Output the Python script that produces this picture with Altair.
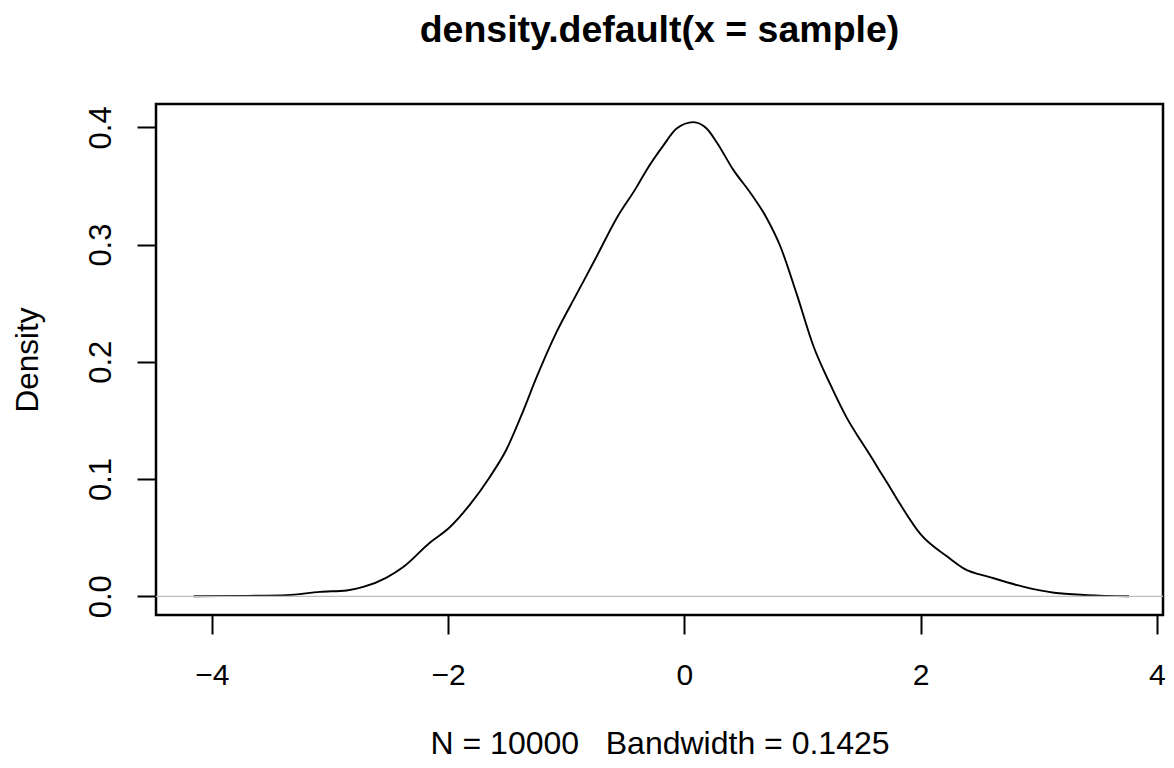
import altair as alt
import pandas as pd

# Density curve
density_x = [-4.155, -3.70, -3.366, -3.085, -2.859, -2.718, -2.521, -2.380, -2.155,
             -1.986, -1.817, -1.648, -1.507, -1.366, -1.254, -1.082, -0.912, -0.757,
             -0.573, -0.404, -0.319, -0.178, -0.065, 0.076, 0.189, 0.274, 0.415,
             0.556, 0.698, 0.811, 0.952, 1.093, 1.234, 1.377, 1.492, 1.575, 1.660,
             1.716, 1.831, 2.000, 2.226, 2.368, 2.593, 2.876, 3.131, 3.413, 3.766]
density_y = [0.0, 0.0004, 0.001, 0.0038, 0.005, 0.008, 0.016, 0.025, 0.0457,
             0.0589, 0.078, 0.1016, 0.125, 0.1576, 0.186, 0.2253, 0.2577, 0.287,
             0.3225, 0.349, 0.3637, 0.3844, 0.399, 0.4044, 0.399, 0.3873, 0.3637,
             0.3446, 0.3225, 0.299, 0.2577, 0.2135, 0.1811, 0.152, 0.133, 0.120, 0.106,
             0.097, 0.078, 0.053, 0.0339, 0.0236, 0.0162, 0.008, 0.003, 0.001, 0.0]

x_ticks = [-4, -2, 0, 2, 4]
y_ticks = [0.0, 0.1, 0.2, 0.3, 0.4]
zero_line = [0.0]
title_text = ["density.default(x = sample)"]
x_title = "N = 10000\u00a0\u00a0\u00a0Bandwidth = 0.1425"
y_title = "Density"

x_domain = [-4.473, 4.053]
y_domain = [-0.01595, 0.4199]

W, H = 1007, 511
FONT = "Liberation Sans"

df = pd.DataFrame({"x": density_x, "y": density_y})

x_enc = alt.X(
    "x:Q",
    scale=alt.Scale(domain=x_domain, nice=False, zero=False),
    axis=alt.Axis(
        values=x_ticks, format="d", grid=False, domain=False,
        tickSize=19, tickWidth=2, tickColor="black",
        labelFont=FONT, labelFontSize=30, labelColor="black",
        labelPadding=50.5, labelBaseline="alphabetic", labelAlign="center",
        labelFlush=False, labelOverlap=False,
        title=x_title, titleFont=FONT, titleFontSize=32, titleFontWeight="normal",
        titleColor="black", titleX=W / 2, titleY=138, titleAlign="center",
        titleBaseline="alphabetic",
    ),
)

y_enc = alt.Y(
    "y:Q",
    scale=alt.Scale(domain=y_domain, nice=False, zero=False),
    axis=alt.Axis(
        values=y_ticks, format=".1f", grid=False, domain=False,
        tickSize=19, tickWidth=2, tickColor="black",
        labelFont=FONT, labelFontSize=31, labelColor="black",
        labelAngle=270, labelPadding=26.7, labelBaseline="alphabetic",
        labelAlign="center", labelFlush=False, labelOverlap=False,
        title=y_title, titleFont=FONT, titleFontSize=31.5, titleFontWeight="normal",
        titleColor="black", titleAngle=270, titleX=-119, titleY=H / 2,
        titleAlign="center", titleBaseline="alphabetic",
    ),
)

line = alt.Chart(df).mark_line(
    color="black", strokeWidth=1.9, interpolate="monotone"
).encode(x=x_enc, y=y_enc)

zero = alt.Chart(pd.DataFrame({"y": zero_line})).mark_rule(
    color="#BEBEBE", strokeWidth=1.2
).encode(y=y_enc)

title = alt.Chart(pd.DataFrame({"t": title_text})).mark_text(
    font=FONT, fontSize=37.5, fontWeight="bold", align="center",
    baseline="alphabetic", color="black"
).encode(text="t:N", x=alt.value(W / 2), y=alt.value(-62))

chart = alt.layer(line, zero, title).properties(
    width=W, height=H,
    autosize=alt.AutoSizeParams(type="none"),
    padding={"left": 148, "top": 96, "right": 3, "bottom": 145},
    background="white",
).configure_view(stroke="black", strokeWidth=2.5)

chart.save("out.html", embed_options={"renderer": "svg", "actions": False})
